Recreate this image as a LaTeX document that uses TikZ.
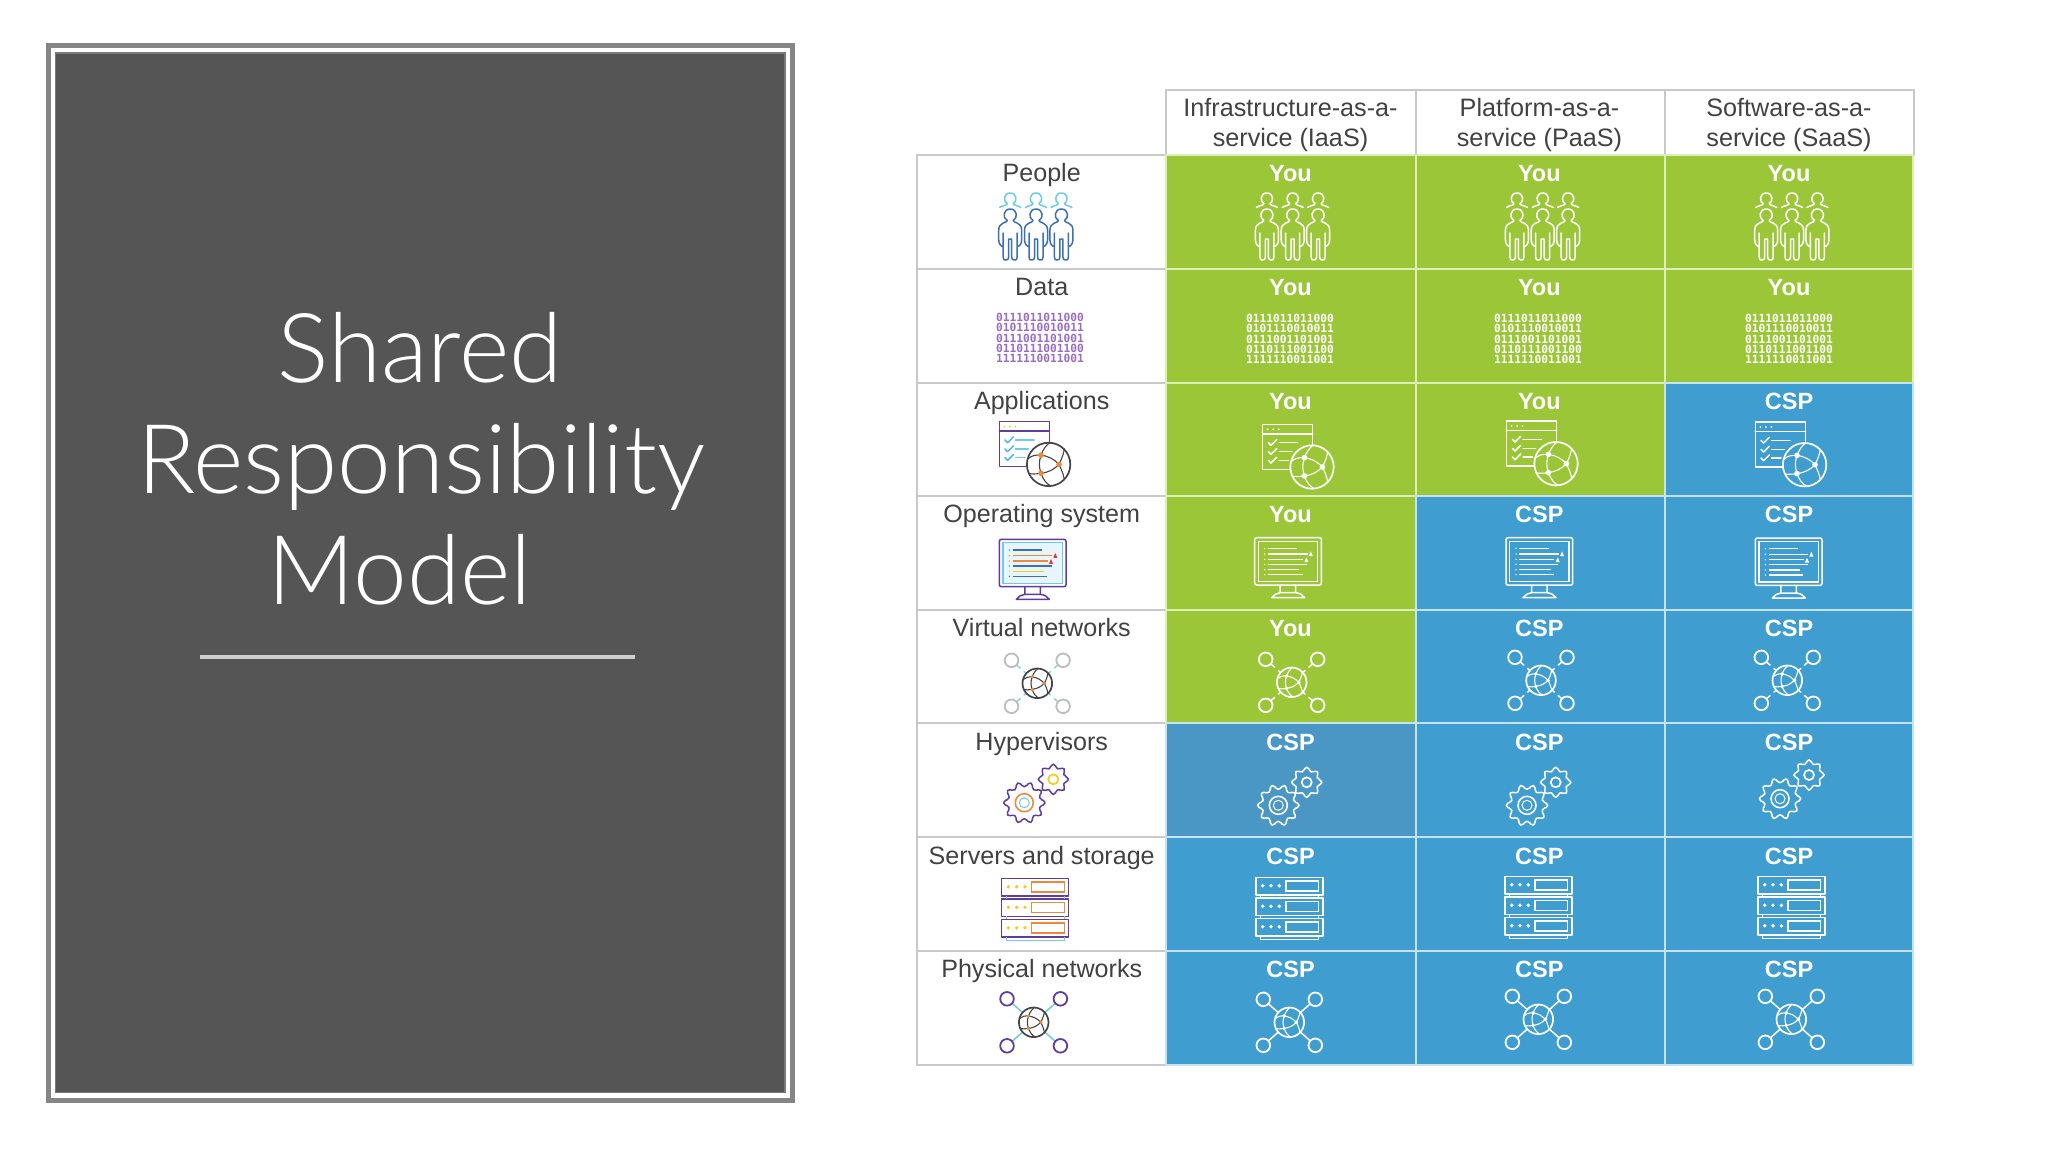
\documentclass[tikz,border=0pt]{standalone}
\usepackage{fontspec}
\setmainfont{Liberation Sans}
\newfontfamily\titlefont{Lato Light}
\newfontfamily\binfont{DejaVu Sans Mono}
\definecolor{panelgray}{HTML}{858585}
\definecolor{paneldark}{HTML}{555555}
\definecolor{rulegray}{HTML}{CFCFCF}
\definecolor{gridgray}{HTML}{C9C9C9}
\definecolor{labelgray}{HTML}{424242}
\definecolor{cellgreen}{HTML}{9AC638}
\definecolor{cellblue}{HTML}{3F9DCF}
\definecolor{cellblueb}{HTML}{4A97C6}
\definecolor{gridgreen}{HTML}{DDEEB8}
\definecolor{gridblue}{HTML}{C6E3F2}
\tikzset{
  iconline/.style={line width=.75pt,line join=round,line cap=round},
  tablelabel/.style={anchor=base,inner sep=0pt,text=labelgray,font=\fontsize{12.55}{15}\selectfont},
  owner/.style={anchor=base,inner sep=0pt,text=white,font=\fontsize{11.75}{14}\selectfont\bfseries},
  headlabel/.style={anchor=base,inner sep=0pt,text=labelgray,font=\fontsize{12.6}{15}\selectfont},
  titleline/.style={anchor=base,inner sep=0pt,text=white,font=\titlefont\fontsize{48.2}{53}\selectfont},
  greencell/.style={fill=cellgreen,draw=gridgreen,line width=1pt},
  bluecell/.style={fill=cellblue,draw=gridblue,line width=1pt},
  bluecellb/.style={fill=cellblueb,draw=gridblue,line width=1pt},
  labelcell/.style={fill=white,draw=gridgray,line width=1pt},
  bintext/.style={inner sep=0pt,align=left,font=\binfont\bfseries\fontsize{5.62}{5.2}\selectfont}
}
\newcommand{\leftcolors}{%
  \definecolor{icPurple}{HTML}{5F3C9E}%
  \definecolor{icBlue}{HTML}{3D6FB6}\definecolor{icSky}{HTML}{6CCBE6}%
  \definecolor{icOrange}{HTML}{EA8A3A}\definecolor{icYellow}{HTML}{F5CB1C}%
  \definecolor{icDark}{HTML}{454545}\definecolor{icRed}{HTML}{E23B3B}%
  \definecolor{icCheck}{HTML}{4DB8E6}\definecolor{icPale}{HTML}{E6F6FC}%
  \definecolor{icBg}{HTML}{FFFFFF}\definecolor{icNode}{HTML}{EA8A3A}%
  \definecolor{icGray}{HTML}{BDBDBD}\definecolor{icTeal}{HTML}{7FD9DC}\definecolor{icBin}{HTML}{9A6CC4}%
}
\newcommand{\whitecolors}[1]{%
  \colorlet{icPurple}{white}\colorlet{icBlue}{white}\colorlet{icSky}{white}%
  \colorlet{icOrange}{white}\colorlet{icYellow}{white}\colorlet{icDark}{white}%
  \colorlet{icRed}{white}\colorlet{icCheck}{white}\colorlet{icPale}{#1}%
  \colorlet{icBg}{#1}\colorlet{icNode}{white}\colorlet{icGray}{white}\colorlet{icTeal}{white}\colorlet{icBin}{white}%
}
% one front person, top of head at origin
\newcommand{\frontperson}{%
  \draw[icBlue,iconline] (-3,11.5) .. controls (-8,9) and (-7,0) .. (0,0) .. controls (7,0) and (8,9) .. (3,11.5)
    .. controls (3,14) and (11.5,13) .. (11.5,21) -- (11.5,31) .. controls (11.5,35) and (9,37.5) .. (7,37.5)
    (7,24) -- (7,48) .. controls (7,51) and (6,51) .. (4,51) .. controls (2.5,51) and (1.5,50) .. (1.5,48) -- (1.5,30) -- (-1.5,30) -- (-1.5,48)
    .. controls (-1.5,50) and (-2.5,51) .. (-4,51) .. controls (-6,51) and (-7,51) .. (-7,48) -- (-7,24)
    (-7,37.5) .. controls (-9,37.5) and (-11.5,35) .. (-11.5,31) -- (-11.5,21) .. controls (-11.5,13) and (-3,14) .. (-3,11.5);
}
\newcommand{\backperson}{%
  \draw[icSky,iconline] (0,-16) .. controls (-7,-16) and (-7,-7) .. (-3,-5.5) .. controls (-3,-3.5) and (-8,-3.5) .. (-10.5,-1.5)
    (0,-16) .. controls (7,-16) and (7,-7) .. (3,-5.5) .. controls (3,-3.5) and (8,-3.5) .. (10.5,-1.5);
}
\newcommand{\peopleicon}[2]{%
  \begin{scope}[shift={(#1,#2)}]
    \foreach \px in {-25.8,0,25.4}{\begin{scope}[shift={(\px,0)}]\backperson\frontperson\end{scope}}
  \end{scope}}
% globe with unit radius
\newcommand{\globe}[3]{%
  \begin{scope}[shift={(#1,#2)},scale=#3]
    \fill[icBg] (0,0) circle (1);
    \draw[icDark,line width=.55pt,line cap=round]
      (-.35,-.43) to[bend left=18] (.48,0) to[bend left=18] (-.35,.41) to[bend left=18] (-.35,-.43)
      (-.35,-.43) .. controls (-.25,-.7) and (-.1,-.9) .. (.05,-1)
      (-.35,-.43) .. controls (-.6,-.45) and (-.8,-.4) .. (-.96,-.25)
      (.48,0) .. controls (.6,-.25) and (.7,-.5) .. (.72,-.7)
      (.48,0) .. controls (.6,.25) and (.7,.5) .. (.72,.7)
      (-.35,.41) .. controls (-.6,.45) and (-.8,.45) .. (-.9,.42)
      (-.35,.41) .. controls (-.25,.7) and (-.1,.9) .. (.1,.99);
    \draw[icDark,line width=.85pt] (0,0) circle (1);
    \fill[icNode] (-.35,-.43) circle (.13) (.48,0) circle (.13) (-.35,.41) circle (.13);
  \end{scope}}
\newcommand{\appicon}[2]{%
  \begin{scope}[shift={(#1,#2)}]
    \draw[icPurple,iconline] (50,21) -- (50,0) -- (0,0) -- (0,45) -- (27,45) (0,9.5) -- (50,9.5);
    \fill[icYellow] (5,5) circle (1) (10.5,5) circle (1) (16,5) circle (1);
    \foreach \cy/\ce in {18.3/34.7,27.3/29,36/25.7}{
      \draw[icCheck,iconline] (5.7,\cy) -- (8.3,\cy+2.7) -- (14,\cy-3);
      \draw[icSky,iconline] (16.3,\cy) -- (\ce,\cy);}
    \globe{49.3}{42.7}{21.7}
  \end{scope}}
\newcommand{\screenicon}[2]{%
  \begin{scope}[shift={(#1,#2)}]
    \draw[icPurple,iconline,rounded corners=1pt] (0,0) rectangle (66.7,47.4);
    \draw[icSky,line width=.6pt,fill=icPale] (3.7,3.4) rectangle (63,44);
    \draw[icPurple,iconline] (25.5,47.4) -- (25.5,55) -- (41,55) -- (41,47.4)
      (25.5,55) .. controls (22,55.5) and (19,57) .. (17,60) -- (50,60) .. controls (48,57) and (45,55.5) .. (41,55);
    \foreach \ly/\le/\lc in {10.7/42.7/icBlue,16.3/53/icOrange,21.7/48.3/icOrange,26.7/52.3/icBlue,32/44.7/icYellow,37/48/icBlue}{
      \fill[\lc] (10,\ly) circle (.75);
      \draw[\lc,line width=.75pt] (13.3,\ly) -- (\le,\ly);}
    \draw[icRed,line width=.5pt,fill=icRed] (54.7,18) -- (56,15) -- (57.3,18) -- cycle;
    \draw[icRed,line width=.5pt,fill=icRed] (50.4,24) -- (51.7,21) -- (53,24) -- cycle;
  \end{scope}}
% centre x, centre y, half dx, half dy, satellite colour, link colour, link style
\newcommand{\neticon}[7]{%
  \begin{scope}[shift={(#1,#2)}]
    \foreach \sx/\sy in {-1/-1,1/-1,-1/1,1/1}{
      \draw[#6,iconline,#7,shorten <=3.4pt,shorten >=7.2pt] (\sx*#3,\sy*#4) -- (0,0);
      \draw[#5,line width=.9pt] (\sx*#3,\sy*#4) circle (6.8);}
    \globe{0}{0}{14.8}
  \end{scope}}
\newcommand{\gearshape}[6]{% cx cy teeth rin rout colour
  \begin{scope}[shift={(#1,#2)}]
    \pgfmathsetmacro{\gstep}{360/#3}
    \draw[#6,iconline,fill=icBg,rounded corners=.9pt] (-\gstep*.3:#4)
      \foreach \gi in {1,...,#3}{
        -- ({(\gi-1)*\gstep-\gstep*.16}:#5) -- ({(\gi-1)*\gstep+\gstep*.16}:#5) -- ({(\gi-1)*\gstep+\gstep*.3}:#4) -- ({\gi*\gstep-\gstep*.3}:#4)
      } -- cycle;
  \end{scope}}
% big gear centre, small gear centre
\newcommand{\gearicon}[4]{%
  \gearshape{#3}{#4}{8}{11.5}{15.2}{icPurple}
  \draw[icYellow,line width=.85pt] (#3,#4) circle (5);
  \gearshape{#1}{#2}{10}{16.2}{20.7}{icPurple}
  \draw[icOrange,line width=.8pt] (#1,#2) circle (9);
  \draw[icSky,line width=.5pt] (#1,#2) circle (5);
}
\newcommand{\servericon}[2]{%
  \begin{scope}[shift={(#1,#2)}]
    \foreach \sv in {0,20.5,41}{
      \begin{scope}[shift={(0,\sv)}]
        \draw[icPurple,iconline] (0,0) rectangle (67,17.5);
        \fill[icYellow] (6.7,8.5) circle (1.9) (15,8.5) circle (1.9) (23.3,8.5) circle (1.9);
        \draw[icOrange,line width=.7pt] (30,3.5) rectangle (62.7,13.5);
      \end{scope}}
    \draw[icSky,line width=.6pt] (4.5,17.5) -- (4.5,20.5) (62.5,17.5) -- (62.5,20.5)
      (4.5,38) -- (4.5,41) (62.5,38) -- (62.5,41)
      (4.5,58.5) -- (4.5,62.5) -- (62.5,62.5) -- (62.5,58.5);
  \end{scope}}
\begin{document}
\begin{tikzpicture}[x=.5pt,y=-.5pt]
\useasboundingbox (0,0) rectangle (2048,1152);
\fill[white] (0,0) rectangle (2048,1152);
% left panel
\fill[panelgray] (45.7,43.3) rectangle (795,1102.7);
\fill[white] (50.7,48.3) rectangle (790,1098);
\fill[paneldark] (54.5,52.3) rectangle (785.5,1093);
\draw[white!22!paneldark,line width=.7pt] (55.2,53) rectangle (784.8,1092.3);
\node[titleline] (titleA) at (420,382.7) {Shared};
\node[titleline] (titleB) at (421.5,493.3) {Responsibility};
\node[titleline] (titleC) at (399.5,604) {Model};
\fill[rulegray] (200,654.7) rectangle (634.7,658.7);
% table: header
\draw[labelcell] (1166,90) rectangle (1415.5,155);
\draw[labelcell] (1415.5,90) rectangle (1664.5,155);
\draw[labelcell] (1664.5,90) rectangle (1914,155);
% row label cells
\draw[labelcell] (917,155) rectangle (1166,268.5);
\draw[labelcell] (917,268.5) rectangle (1166,382.5);
\draw[labelcell] (917,382.5) rectangle (1166,496);
\draw[labelcell] (917,496) rectangle (1166,609.5);
\draw[labelcell] (917,609.5) rectangle (1166,723);
\draw[labelcell] (917,723) rectangle (1166,837);
\draw[labelcell] (917,837) rectangle (1166,951);
\draw[labelcell] (917,951) rectangle (1166,1065);
% coloured cells
\draw[greencell] (1166,155) rectangle (1415.5,268.5);
\draw[greencell] (1415.5,155) rectangle (1664.5,268.5);
\draw[greencell] (1664.5,155) rectangle (1913,268.5);
\draw[greencell] (1166,268.5) rectangle (1415.5,382.5);
\draw[greencell] (1415.5,268.5) rectangle (1664.5,382.5);
\draw[greencell] (1664.5,268.5) rectangle (1913,382.5);
\draw[greencell] (1166,382.5) rectangle (1415.5,496);
\draw[greencell] (1415.5,382.5) rectangle (1664.5,496);
\draw[bluecell] (1664.5,382.5) rectangle (1913,496);
\draw[greencell] (1166,496) rectangle (1415.5,609.5);
\draw[bluecell] (1415.5,496) rectangle (1664.5,609.5);
\draw[bluecell] (1664.5,496) rectangle (1913,609.5);
\draw[greencell] (1166,609.5) rectangle (1415.5,723);
\draw[bluecell] (1415.5,609.5) rectangle (1664.5,723);
\draw[bluecell] (1664.5,609.5) rectangle (1913,723);
\draw[bluecellb] (1166,723) rectangle (1415.5,837);
\draw[bluecell] (1415.5,723) rectangle (1664.5,837);
\draw[bluecell] (1664.5,723) rectangle (1913,837);
\draw[bluecell] (1166,837) rectangle (1415.5,951);
\draw[bluecell] (1415.5,837) rectangle (1664.5,951);
\draw[bluecell] (1664.5,837) rectangle (1913,951);
\draw[bluecell] (1166,951) rectangle (1415.5,1065);
\draw[bluecell] (1415.5,951) rectangle (1664.5,1065);
\draw[bluecell] (1664.5,951) rectangle (1913,1065);
% header text
\node[headlabel] (hA1) at (1290.5,116.7) {Infrastructure-as-a-};
\node[headlabel] (hA2) at (1290.5,146.7) {service (IaaS)};
\node[headlabel] (hB1) at (1539.5,116.7) {Platform-as-a-};
\node[headlabel] (hB2) at (1539.5,146.7) {service (PaaS)};
\node[headlabel] (hC1) at (1789,116.7) {Software-as-a-};
\node[headlabel] (hC2) at (1789,146.7) {service (SaaS)};
% row labels
\node[tablelabel] (r1) at (1041.7,181.5) {People};
\node[tablelabel] (r2) at (1041.7,295.3) {Data};
\node[tablelabel] (r3) at (1041.7,409) {Applications};
\node[tablelabel] (r4) at (1041.7,522.7) {Operating system};
\node[tablelabel] (r5) at (1041.7,636.4) {Virtual networks};
\node[tablelabel] (r6) at (1041.7,750.2) {Hypervisors};
\node[tablelabel] (r7) at (1041.7,864) {Servers and storage};
\node[tablelabel] (r8) at (1041.7,977.7) {Physical networks};
% owner text
\foreach \oy/\oa/\ob/\oc/\oi in {181.5/You/You/You/1,295.3/You/You/You/2,409/You/You/CSP/3,522.7/You/CSP/CSP/4,636.4/You/CSP/CSP/5,750.2/CSP/CSP/CSP/6,864/CSP/CSP/CSP/7,977.7/CSP/CSP/CSP/8}{
  \node[owner] (a\oi) at (1290.5,\oy) {\oa};
  \node[owner] (b\oi) at (1539.3,\oy) {\ob};
  \node[owner] (c\oi) at (1789,\oy) {\oc};
}
% left column icons
\begin{scope}
  \leftcolors
  \peopleicon{1036}{209}
  \node[bintext,text=icBin] (binL) at (1040,338) {0111011011000\\0101110010011\\0111001101001\\0110111001100\\1111110011001};
  \appicon{999.3}{421.7}
  \screenicon{999.3}{539.3}
  \neticon{1037.3}{683.3}{25.8}{23}{icGray}{icTeal}{dash pattern=on 2.5pt off 2.5pt}
  \gearicon{1024.3}{802.7}{1053.3}{779.3}
  \servericon{1001.7}{878.3}
  \neticon{1033.7}{1022.3}{26.7}{23.5}{icPurple}{icSky}{solid}
\end{scope}
% white icons on green cells
\begin{scope}
  \whitecolors{cellgreen}
  \peopleicon{1292.7}{209}
  \peopleicon{1542.7}{209}
  \peopleicon{1792}{209}
  \node[bintext,text=white] (binA) at (1290,339) {0111011011000\\0101110010011\\0111001101001\\0110111001100\\1111110011001};
  \node[bintext,text=white] (binB) at (1538,339) {0111011011000\\0101110010011\\0111001101001\\0110111001100\\1111110011001};
  \node[bintext,text=white] (binC) at (1789,339) {0111011011000\\0101110010011\\0111001101001\\0110111001100\\1111110011001};
  \appicon{1262.7}{424.3}
  \appicon{1506.7}{421}
  \screenicon{1254.7}{537.7}
  \neticon{1291.7}{682.3}{26}{23}{white}{white}{dash pattern=on 2.5pt off 2.5pt}
\end{scope}
% white icons on blue cells
\begin{scope}
  \whitecolors{cellblue}
  \appicon{1755.3}{422}
  \screenicon{1506}{537.7}
  \screenicon{1755.3}{538}
  \neticon{1541}{680.3}{26}{23}{white}{white}{dash pattern=on 2.5pt off 2.5pt}
  \neticon{1787.3}{680.3}{26}{23}{white}{white}{dash pattern=on 2.5pt off 2.5pt}
  \gearicon{1527}{805.3}{1555.7}{782.3}
  \gearicon{1780}{798.7}{1809}{775}
  \servericon{1256}{877.3}
  \servericon{1505}{876.3}
  \servericon{1758}{876.3}
  \neticon{1289.3}{1022.3}{26}{23}{white}{white}{solid}
  \neticon{1538.3}{1019.3}{26}{23}{white}{white}{solid}
  \neticon{1791.3}{1019.3}{26}{23}{white}{white}{solid}
\end{scope}
\begin{scope}
  \whitecolors{cellblueb}
  \gearicon{1278.3}{805.3}{1306.7}{782.3}
\end{scope}
\end{tikzpicture}
\end{document}
